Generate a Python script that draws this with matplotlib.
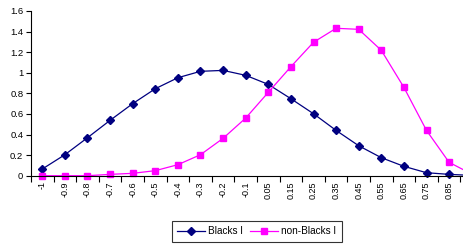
import matplotlib
matplotlib.use('Agg')
import matplotlib.pyplot as plt
import numpy as np

plt.rcParams['font.family'] = ['Liberation Sans', 'DejaVu Sans']

# categories (last one falls outside the visible picture)
cats = ['-1', '-0.9', '-0.8', '-0.7', '-0.6', '-0.5', '-0.4', '-0.3', '-0.2', '-0.1',
        '0.05', '0.15', '0.25', '0.35', '0.45', '0.55', '0.65', '0.75', '0.85', '0.95']

blacks = [0.065, 0.204, 0.369, 0.538, 0.70, 0.845, 0.952, 1.014, 1.023, 0.975,
          0.887, 0.748, 0.602, 0.44, 0.291, 0.175, 0.091, 0.029, 0.013, 0.003]

non_blacks = [0.0, 0.0, 0.0, 0.013, 0.023, 0.049, 0.107, 0.204, 0.363, 0.56,
              0.81, 1.059, 1.296, 1.432, 1.422, 1.218, 0.858, 0.44, 0.13, 0.016]

yticks = [0, 0.2, 0.4, 0.6, 0.8, 1, 1.2, 1.4, 1.6]
ytick_labels = ['0', '0.2', '0.4', '0.6', '0.8', '1', '1.2', '1.4', '1.6']

fig = plt.figure(figsize=(4.64, 2.46), dpi=100)
ax = fig.add_axes([31 / 464, 1 - 175.7 / 246, 452 / 464, (175.7 - 11) / 246])

x = np.arange(len(cats))
l1, = ax.plot(x, blacks, color='#000080', marker='D', markersize=3.6, linewidth=0.9,
              label='Blacks I', clip_on=False)
l2, = ax.plot(x, non_blacks, color='#FF00FF', marker='s', markersize=4.6, linewidth=0.9,
              label='non-Blacks I', clip_on=False)

ax.set_xlim(-0.5, len(cats) - 0.5)
ax.set_ylim(0, 1.6)

ax.set_xticks(x)
ax.set_xticklabels(cats[:-1] + [''], rotation=90, fontsize=6.5)
ax.tick_params(axis='x', which='major', length=0, pad=4)
ax.set_xticks(np.arange(-0.5, len(cats), 1), minor=True)
ax.tick_params(axis='x', which='minor', length=4, width=0.8, direction='out')

ax.set_yticks(yticks)
ax.set_yticklabels(ytick_labels, fontsize=6.8)
ax.tick_params(axis='y', length=3.5, width=0.8, direction='out', pad=2)

for s in ['top', 'right']:
    ax.spines[s].set_visible(False)
for s in ['left', 'bottom']:
    ax.spines[s].set_linewidth(0.8)

leg = fig.legend(handles=[l1, l2], loc='center', bbox_to_anchor=(257 / 464, 1 - 231.5 / 246),
                 ncol=2, fontsize=7.2, frameon=True, fancybox=False, borderpad=0.55,
                 handlelength=2.8, columnspacing=0.7, handletextpad=0.3)
leg.get_frame().set_edgecolor('black')
leg.get_frame().set_linewidth(0.8)

plt.savefig('out.png', dpi=100)
